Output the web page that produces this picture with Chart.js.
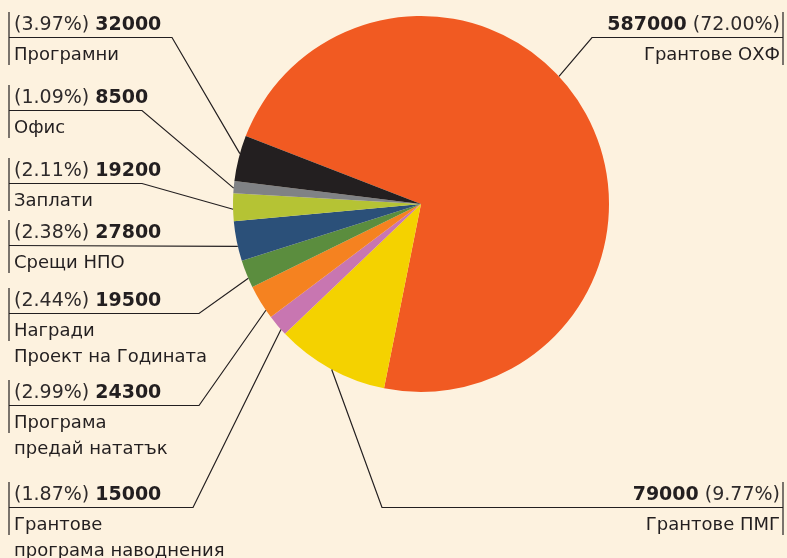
<!DOCTYPE html>
<html lang="bg">
<head>
<meta charset="utf-8">
<script src="https://cdn.jsdelivr.net/npm/chart.js@4.4.1/dist/chart.umd.min.js"></script>
<style>
  html, body { margin: 0; padding: 0; background: #FDF2DF; }
  #wrap { width: 787px; height: 558px; }
  canvas { display: block; }
</style>
</head>
<body>
<div id="wrap"><canvas id="c" width="787" height="558"></canvas></div>
<script>
// ---- data ----
const categories = ['Грантове ОХФ', 'Грантове ПМГ', 'Грантове програма наводнения', 'Програма предай нататък',
  'Награди Проект на Годината', 'Срещи НПО', 'Заплати', 'Офис', 'Програмни'];
const values = [587000, 79000, 15000, 24300, 19500, 27800, 19200, 8500, 32000];
const percentLabels = ['72.00%', '9.77%', '1.87%', '2.99%', '2.44%', '2.38%', '2.11%', '1.09%', '3.97%'];
const nameLines = [['Грантове ОХФ'], ['Грантове ПМГ'], ['Грантове', 'програма наводнения'], ['Програма', 'предай нататък'],
  ['Награди', 'Проект на Годината'], ['Срещи НПО'], ['Заплати'], ['Офис'], ['Програмни']];
const colors = ['#F15A22', '#F4D200', '#C876B1', '#F58220', '#5B8D3E', '#2B5079', '#B5C334', '#808285', '#231F20'];

// ---- label layout (positions only) ----
const labelLayout = [
  { side: 'right', top: 12, knee: 592, anchor: 0.446 },
  { side: 'right', top: 482, knee: 382, anchor: 0.486 },
  { side: 'left', top: 482, knee: 193, anchor: 0.27 },
  { side: 'left', top: 380, knee: 199, anchor: 0.24 },
  { side: 'left', top: 288, knee: 199, anchor: 0.34 },
  { side: 'left', top: 220, knee: null, anchor: 0.37 },
  { side: 'left', top: 158, knee: 142, anchor: 0.43 },
  { side: 'left', top: 85, knee: 142, anchor: 0.42 },
  { side: 'left', top: 12, knee: 172, anchor: 0.6 }
];

const FONT = '"DejaVu Sans", sans-serif';
const INK = '#231F20';

const labelPlugin = {
  id: 'sideLabels',
  afterDraw(chart) {
    const ctx = chart.ctx;
    const meta = chart.getDatasetMeta(0);
    ctx.save();
    meta.data.forEach((arc, i) => {
      const L = labelLayout[i];
      const p = arc.getProps(['x', 'y', 'startAngle', 'endAngle', 'outerRadius'], true);
      const a = p.startAngle + (p.endAngle - p.startAngle) * L.anchor;
      const ax = p.x + Math.cos(a) * p.outerRadius;
      const ay = p.y + Math.sin(a) * p.outerRadius;
      const top = L.top;
      const b1 = top + 18;
      const hy = top + 25.5;
      const barX = L.side === 'left' ? 9 : 783;

      ctx.strokeStyle = INK;
      ctx.lineWidth = 1.2;
      ctx.beginPath();
      ctx.moveTo(barX, top);
      ctx.lineTo(barX, top + 53);
      ctx.stroke();

      ctx.beginPath();
      ctx.moveTo(barX, hy);
      if (L.knee !== null) ctx.lineTo(L.knee, hy);
      ctx.lineTo(ax, ay);
      ctx.stroke();

      const pctText = '(' + percentLabels[i] + ')';
      const valText = String(values[i]);
      ctx.textBaseline = 'alphabetic';
      if (L.side === 'left') {
        ctx.textAlign = 'left';
        ctx.font = '19px ' + FONT;
        ctx.fillStyle = '#2e2a2b';
        ctx.fillText(pctText + ' ', 14, b1);
        const w = ctx.measureText(pctText + ' ').width;
        ctx.font = 'bold 19px ' + FONT;
        ctx.fillStyle = INK;
        ctx.fillText(valText, 14 + w, b1);
      } else {
        ctx.textAlign = 'right';
        ctx.font = '19px ' + FONT;
        ctx.fillStyle = '#2e2a2b';
        ctx.fillText(' ' + pctText, 780, b1);
        const w = ctx.measureText(' ' + pctText).width;
        ctx.font = 'bold 19px ' + FONT;
        ctx.fillStyle = INK;
        ctx.fillText(valText, 780 - w, b1);
      }
      ctx.font = '18px ' + FONT;
      ctx.fillStyle = INK;
      nameLines[i].forEach((ln, k) => {
        const y = top + 48 + k * 26;
        ctx.textAlign = L.side === 'left' ? 'left' : 'right';
        ctx.fillText(ln, L.side === 'left' ? 14 : 780, y);
      });
    });
    ctx.restore();
  }
};

new Chart(document.getElementById('c'), {
  type: 'pie',
  data: {
    labels: categories,
    datasets: [{
      data: values,
      backgroundColor: colors,
      borderWidth: 0,
      hoverOffset: 0
    }]
  },
  options: {
    responsive: false,
    animation: false,
    rotation: 291.2,
    layout: { padding: { top: 16, bottom: 166, left: 233, right: 178 } },
    plugins: {
      legend: { display: false },
      tooltip: { enabled: false }
    }
  },
  plugins: [labelPlugin]
});
</script>
</body>
</html>
